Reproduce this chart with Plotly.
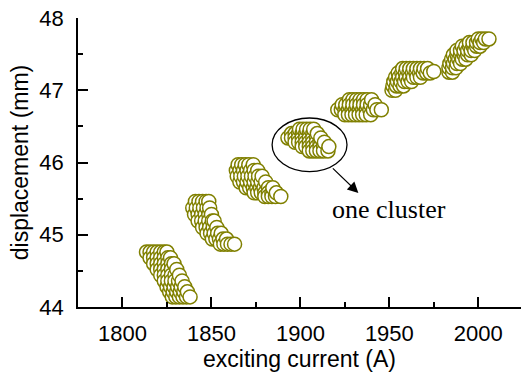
import numpy as np
import plotly.graph_objects as go

# Each cluster: rows of (displacement mm, [exciting currents A])
cluster1 = [
    (44.76, [1813.5, 1815.5, 1817.5, 1819.5, 1821.5, 1823.5, 1825]),
    (44.68, [1815.5, 1817.5, 1819.5, 1821.5, 1823.5, 1825.5, 1827]),
    (44.60, [1817.5, 1819.5, 1821.5, 1823.5, 1825.5, 1827.5, 1829]),
    (44.52, [1819.5, 1821.5, 1823.5, 1825.5, 1827.5, 1830.5]),
    (44.44, [1821.5, 1823.5, 1825.5, 1827.5, 1829.5, 1832]),
    (44.36, [1823.5, 1825.5, 1827.5, 1829.5, 1831.5, 1833.5]),
    (44.28, [1825, 1827, 1829, 1831, 1833, 1835]),
    (44.21, [1826.5, 1828.5, 1830.5, 1832.5, 1834.5, 1836.5]),
    (44.14, [1828, 1830, 1832, 1834, 1836, 1838]),
]
cluster2 = [
    (45.46, [1841, 1843, 1845, 1847, 1848.5]),
    (45.37, [1839.5, 1841.5, 1843.5, 1845.5, 1847.5, 1849]),
    (45.28, [1840.5, 1842.5, 1844.5, 1846.5, 1848.5, 1850]),
    (45.19, [1842.5, 1844.5, 1846.5, 1848.5, 1850.5, 1851.5]),
    (45.10, [1845, 1847, 1849, 1851, 1853]),
    (45.02, [1847.5, 1849.5, 1851.5, 1853.5, 1855.5]),
    (44.94, [1850.5, 1852.5, 1854.5, 1856.5, 1858.5]),
    (44.87, [1855, 1857, 1859, 1861, 1863]),
]
cluster3 = [
    (45.97, [1865, 1867, 1869, 1871, 1873.5]),
    (45.89, [1864, 1866, 1868, 1870, 1872, 1874, 1876]),
    (45.81, [1864.5, 1866.5, 1868.5, 1870.5, 1872.5, 1874.5, 1876.5, 1878.5]),
    (45.73, [1866, 1868, 1870, 1872, 1874, 1876, 1878, 1880.5]),
    (45.65, [1869.5, 1871.5, 1873.5, 1875.5, 1877.5, 1879.5, 1882, 1884.5]),
    (45.58, [1874, 1876, 1878, 1880, 1882, 1884, 1886.5]),
    (45.53, [1880, 1882, 1884, 1886, 1889]),
]
cluster4 = [
    (46.46, [1899.5, 1901.5, 1903.5, 1905.5, 1907.5]),
    (46.40, [1895, 1897, 1899, 1901, 1903, 1905, 1907, 1909.5]),
    (46.34, [1893, 1895, 1897, 1899, 1901, 1903, 1905, 1907, 1909, 1911.5]),
    (46.28, [1897, 1899, 1901, 1903, 1905, 1907, 1909, 1911, 1913.5]),
    (46.22, [1901, 1903, 1905, 1907, 1909, 1911, 1913, 1916]),
    (46.16, [1905, 1907, 1909, 1911, 1913, 1915.5]),
]
cluster5 = [
    (46.87, [1927.5, 1929.5, 1931.5, 1933.5, 1935.5, 1937.5, 1940]),
    (46.80, [1923.5, 1925.5, 1927.5, 1929.5, 1931.5, 1933.5, 1935.5, 1937.5, 1939.5, 1942]),
    (46.73, [1921, 1923, 1925, 1927, 1929, 1931, 1933, 1935, 1937, 1939, 1941, 1943, 1945.5]),
    (46.66, [1925, 1927, 1929, 1931, 1933, 1935, 1937, 1939.5]),
]
cluster6 = [
    (47.00, [1951.5, 1953.5]),
    (47.06, [1952, 1954, 1956, 1958]),
    (47.12, [1952.5, 1954.5, 1956.5, 1958.5, 1960.5, 1962.5]),
    (47.18, [1953.5, 1955.5, 1957.5, 1959.5, 1961.5, 1963.5, 1965.5, 1967.5]),
    (47.24, [1955, 1957, 1959, 1961, 1963, 1965, 1967, 1969, 1971, 1973]),
    (47.30, [1957.5, 1959.5, 1961.5, 1963.5, 1965.5, 1967.5, 1969.5, 1971.5]),
    (47.26, [1975]),
]
cluster7 = [
    (47.25, [1983.5, 1985.5]),
    (47.31, [1983.5, 1985.5, 1987.5]),
    (47.37, [1984, 1986, 1988, 1990]),
    (47.43, [1985, 1987, 1989, 1991, 1993]),
    (47.49, [1986, 1988, 1990, 1992, 1994, 1996]),
    (47.55, [1988, 1990, 1992, 1994, 1996, 1998]),
    (47.61, [1991, 1993, 1995, 1997, 1999, 2001]),
    (47.66, [1995, 1997, 1999, 2001, 2003]),
    (47.71, [2000, 2002, 2004, 2006]),
]
clusters = [cluster1, cluster2, cluster3, cluster4, cluster5, cluster6, cluster7]

x_ticks = [1800, 1850, 1900, 1950, 2000]
y_ticks = [44, 45, 46, 47, 48]

currents, displacements = [], []
for cl in clusters:
    for disp, cur_list in cl:
        for c in cur_list:
            currents.append(c)
            displacements.append(disp)
currents = np.array(currents)
displacements = np.array(displacements)
order = np.argsort(currents, kind="stable")
currents = currents[order]
displacements = displacements[order]

olive = "#808000"
fig = go.Figure()
fig.add_trace(go.Scatter(
    x=currents, y=displacements, mode="markers",
    marker=dict(size=14, color="white", line=dict(color=olive, width=1.5)),
    showlegend=False, hoverinfo="skip",
))

font_sans = "Arial, 'Liberation Sans', sans-serif"
axis_common = dict(
    showline=True, linecolor="black", linewidth=1.6, mirror=False,
    ticks="inside", ticklen=10, tickwidth=1.5, tickcolor="black",
    showgrid=False, zeroline=False,
    tickfont=dict(family=font_sans, size=22, color="black"),
)
fig.update_xaxes(
    range=[1775, 2024], tickvals=x_ticks, ticktext=[str(v) for v in x_ticks],
    minor=dict(dtick=25, tick0=1775, ticks="inside", ticklen=5, tickwidth=1.5, tickcolor="black"),
    title=dict(text="exciting current (A)", font=dict(family=font_sans, size=23, color="black"), standoff=3),
    ticklabelstandoff=6,
    **axis_common,
)
fig.update_yaxes(
    range=[44, 48], tickvals=y_ticks, ticktext=[str(v) for v in y_ticks],
    minor=dict(dtick=0.5, tick0=44, ticks="inside", ticklen=5, tickwidth=1.5, tickcolor="black"),
    title=dict(text="displacement (mm)", font=dict(family=font_sans, size=23, color="black"), standoff=4),
    ticklabelstandoff=8,
    **axis_common,
)

fig.add_shape(type="circle", xref="x", yref="y",
              x0=1884.1, x1=1926.2, y0=45.873, y1=46.616,
              line=dict(color="black", width=1.3))
fig.add_annotation(x=1932.6, y=45.578, ax=1917.4, ay=45.938, axref="x", ayref="y",
                   xref="x", yref="y", text="", showarrow=True,
                   arrowhead=2, arrowsize=1.8, arrowwidth=1.2, arrowcolor="black", standoff=0)
fig.add_annotation(x=1950, y=45.35, xref="x", yref="y", text="one cluster", showarrow=False,
                   font=dict(family="'Times New Roman', 'Liberation Serif', serif", size=26, color="black"))

fig.update_layout(
    width=521, height=376,
    margin=dict(l=78, r=0, t=18, b=69),
    paper_bgcolor="white", plot_bgcolor="white",
)
fig.write_html("out.html", config={"displayModeBar": False},
               post_script="document.body.style.margin='0';")
